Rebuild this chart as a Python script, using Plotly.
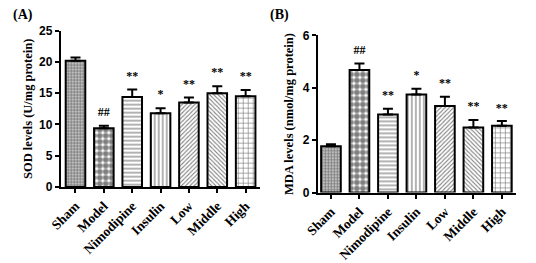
import plotly.graph_objects as go

groups = ["Sham", "Model", "Nimodipine", "Insulin", "Low", "Middle", "High"]
sod_mean = [20.2, 9.4, 14.4, 11.8, 13.5, 15.0, 14.5]
sod_err = [0.5, 0.4, 1.2, 0.8, 0.8, 1.1, 1.0]
mda_mean = [1.77, 4.68, 2.98, 3.74, 3.30, 2.48, 2.55]
mda_err = [0.07, 0.25, 0.22, 0.22, 0.36, 0.29, 0.18]
sig = ["", "##", "**", "*", "**", "**", "**"]
sod_ticks = [0, 5, 10, 15, 20, 25]
mda_ticks = [0, 2, 4, 6]

shapes = [".", ".", "-", "|", "/", "\\", "+"]
psize = [3, 6, 4, 4, 3, 3, 5]
psol = [0.75, 0.7, 0.3, 0.3, 0.35, 0.35, 0.25]

W, H = 536, 263
serif = "Liberation Serif"

fig = go.Figure()

def add_panel(means, errs, xa, ya, pad):
    fig.add_trace(go.Bar(
        x=groups, y=means, xaxis=xa, yaxis=ya, width=0.69,
        marker=dict(color="white", line=dict(color="black", width=2),
                    pattern=dict(shape=shapes, size=psize, solidity=psol,
                                 fgcolor="black", bgcolor="white")),
        error_y=dict(type="data", array=errs, arrayminus=[0]*len(errs), symmetric=False,
                     color="black", thickness=2, width=5),
        showlegend=False, hoverinfo="skip"))
    fig.add_trace(go.Scatter(
        x=groups, y=[m + e + pad for m, e in zip(means, errs)], xaxis=xa, yaxis=ya,
        mode="text", text=sig, textposition="top center",
        textfont=dict(family=serif, size=12, color="black", weight="bold"),
        showlegend=False, hoverinfo="skip"))

add_panel(sod_mean, sod_err, "x", "y", 1.1)
add_panel(mda_mean, mda_err, "x2", "y2", 0.25)

axis_common = dict(showline=True, linecolor="black", linewidth=2, ticks="outside",
                   tickwidth=2, ticklen=4, tickcolor="black", showgrid=False, zeroline=False)
xfont = dict(family=serif, size=13.5, color="black", weight="bold")
yfont = dict(family="Liberation Sans Narrow, Liberation Sans", size=12, color="black", weight="bold")
tfont = dict(family=serif, size=12.5, color="black", weight="bold")

fig.update_layout(
    width=W, height=H, margin=dict(l=0, r=0, t=0, b=0),
    plot_bgcolor="white", paper_bgcolor="white",
    xaxis=dict(domain=[48/W, 253/W], range=[-0.52, 6.52], tickangle=-45,
               tickfont=xfont, anchor="y", **axis_common),
    yaxis=dict(domain=[(H-190)/H, (H-25)/H], range=[0, 25], tickvals=sod_ticks,
               tickfont=yfont, anchor="x",
               title=dict(text="SOD levels (U/mg protein)", standoff=4, font=tfont),
               **axis_common),
    xaxis2=dict(domain=[312/W, 515/W], range=[-0.46, 6.48], tickangle=-45,
                tickfont=xfont, anchor="y2", **axis_common),
    yaxis2=dict(domain=[(H-196)/H, (H-30)/H], range=[0, 6], tickvals=mda_ticks,
                tickfont=yfont, anchor="x2",
                title=dict(text="MDA levels (nmol/mg protein)", standoff=6, font=tfont),
                **axis_common),
)

fig.add_annotation(x=-3/W, y=1, xref="paper", yref="paper", xanchor="left", yanchor="top",
                   yshift=2, text="<b>(A)</b>", showarrow=False,
                   font=dict(family=serif, size=14, color="black"))
fig.add_annotation(x=261/W, y=1, xref="paper", yref="paper", xanchor="left", yanchor="top",
                   yshift=2, text="<b>(B)</b>", showarrow=False,
                   font=dict(family=serif, size=14, color="black"))

fig.write_html("out.html")
